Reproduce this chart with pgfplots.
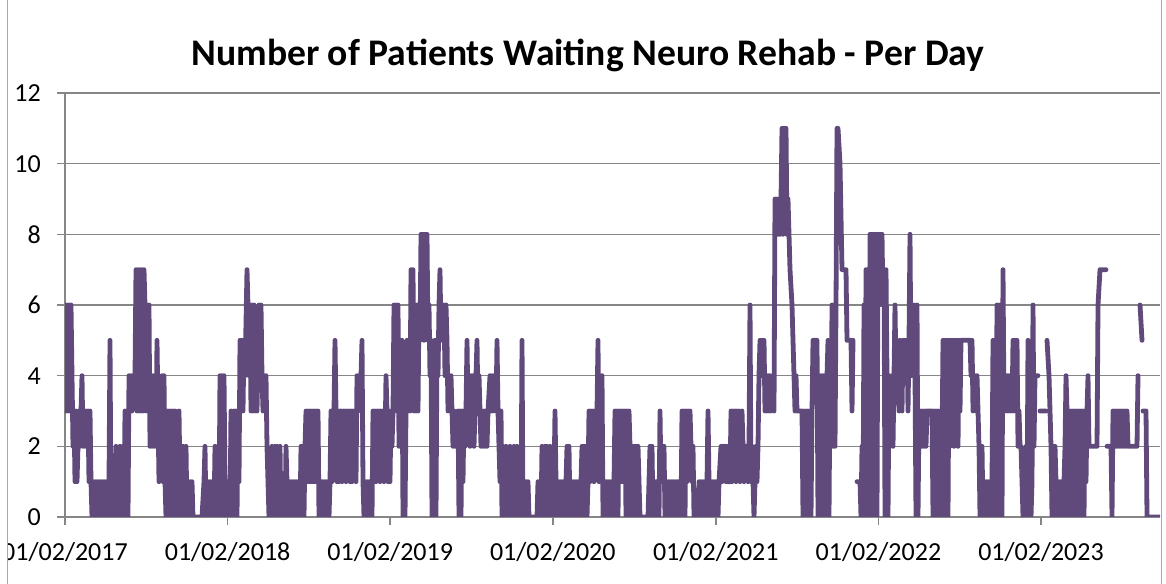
\documentclass[border=0pt]{standalone}
\usepackage{pgfplots}
\pgfplotsset{compat=1.18}
\usepackage{fontspec}
\setmainfont{Carlito}
\definecolor{lineP}{RGB}{96,74,123}
\definecolor{gridG}{RGB}{134,134,134}
\definecolor{borderG}{RGB}{170,170,170}
\begin{document}
\begin{tikzpicture}[x=1pt,y=1pt]
\useasboundingbox (0,0) rectangle (874.5,438);
\fill[white] (0,0) rectangle (874.5,438);
\begin{scope}
\clip (5.6,0) rectangle (874.5,438);
\begin{axis}[
  at={(48.75pt,50.25pt)}, anchor=south west,
  width=821.25pt, height=318pt, scale only axis,
  xmin=0, xmax=1095, ymin=0, ymax=12,
  axis x line=bottom, axis y line=left,
  axis line style={gridG, line width=1.1pt, -},
  ytick={0,2,4,6,8,10,12},
  xtick={0,162.6,325.2,487.8,650.8,813.4,976},
  xticklabels={01/02/2017,01/02/2018,01/02/2019,01/02/2020,01/02/2021,01/02/2022,01/02/2023},
  ymajorgrids, grid style={gridG, line width=1.1pt},
  tick align=outside, major tick length=6pt,
  tick style={gridG, line width=1.1pt},
  ticklabel style={font=\fontsize{19.5}{22}\selectfont},
  /pgf/number format/assume math mode=true,
  yticklabel style={anchor=east, inner sep=0pt, xshift=-12pt},
  xticklabel style={anchor=base, inner sep=0pt, yshift=-27pt},
  unbounded coords=jump,
  clip=true,
]
\addplot[lineP, line width=3.6pt, line join=round, line cap=round] coordinates {
(0,6)(1,3)(2,6)(3,3)(4,6)(5,3)(6,6)(7,4)(8,2)(9,3)(10,1)(11,3)(12,1)(13,2)(14,3)(15,2)(16,3)(17,4)(18,2)(19,3)(20,2)(21,3)(22,2)(23,3)(24,1)(25,3)(26,1)(27,0)(28,1)(29,0)(30,1)(31,0)(32,1)(33,0)(34,1)(35,0)(36,1)(37,0)(38,1)(39,0)(40,1)(41,0)(42,1)(43,0)(44,1)(45,5)(46,0)(47,1)(48,0)(49,1)(50,0)(51,2)(52,0)(53,1)(54,0)(55,2)(56,0)(57,1)(58,2)(59,0)(60,3)(61,1)(62,3)(63,0)(64,4)(65,3)(66,4)(67,3)(68,4)(70,4)(71,7)(72,3)(73,7)(74,3)(75,7)(76,3)(77,7)(78,3)(79,7)(80,6)(81,3)(82,6)(83,4)(84,6)(85,2)(86,4)(87,2)(88,4)(89,2)(90,3)(91,2)(92,5)(93,3)(94,1)(95,3)(96,2)(97,4)(98,1)(99,4)(100,1)
(101,0)(102,3)(103,0)(104,3)(105,0)(106,3)(107,1)(108,3)(109,0)(110,3)(111,0)(112,1)(113,0)(114,3)(115,1)(116,2)(117,0)(118,2)(119,1)(120,0)(121,2)(122,0)(123,1)(124,0)(125,1)(126,0)(127,1)(128,0)(137,0)(139,1)(140,2)(141,0)(142,1)(143,0)(144,1)(145,0)(146,1)(147,0)(148,1)(149,0)(150,2)(151,0)(152,1)(153,2)(154,0)(155,4)(156,1)(157,4)(158,0)(159,4)(160,1)(161,0)(162,1)(163,0)(164,1)(165,0)(166,3)(167,0)(168,1)(169,3)(170,1)(171,3)(172,0)(173,3)(174,1)(175,5)
(176,4)(177,5)(178,3)(179,5)(180,4)(182,7)(183,6)(184,4)(185,6)(186,3)(187,6)(188,3)(189,6)(190,3)(191,4)(192,3)(194,6)(195,4)(196,6)(197,4)(198,3)(199,4)(200,3)(201,4)(202,2)(203,1)(204,0)(205,1)(206,0)(207,2)(208,1)(209,0)(210,2)(211,0)(212,2)(213,1)(214,0)(215,2)(216,0)(217,1)(218,0)(219,1)(220,0)(221,2)(222,1)(223,0)(224,1)(225,0)(226,1)(227,0)(228,1)(229,0)(230,1)(231,0)(232,1)(233,0)(234,1)(235,0)(236,2)(237,1)(238,2)(239,0)(240,2)(241,3)(242,1)(243,3)(244,1)(245,3)(246,1)(247,3)(248,1)(249,3)(250,1)(251,3)(252,1)(253,3)(254,0)(255,1)(256,0)(257,1)(258,0)(259,1)(260,0)(261,1)(262,0)(263,1)(264,0)(265,1)(266,3)(267,1)(268,3)(269,3)(270,5)(271,3)(272,1)(273,3)(274,1)(275,3)
(276,3)(277,1)(278,3)(279,2)(280,3)(281,1)(282,3)(283,2)(284,3)(285,1)(286,3)(287,1)(288,3)(289,2)(290,3)(291,1)(292,4)(293,3)(294,4)(296,4)(297,5)(298,1)(299,0)(300,1)(301,0)(302,1)(303,0)(304,1)(305,0)(306,1)(307,0)(308,3)(309,2)(310,3)(311,1)(312,3)(313,2)(314,3)(315,1)(316,3)(317,2)(318,3)(319,1)(320,2)(321,4)(322,3)(323,1)(324,3)(325,1)(326,3)(327,2)(328,3)(329,6)(330,4)(331,6)(332,3)(333,6)(334,2)(335,5)(336,2)(337,5)(338,0)(339,2)(340,0)(341,3)(342,5)(343,3)(344,5)(345,3)(346,7)(347,4)(348,7)(349,3)(350,6)(351,3)(352,6)(353,3)(354,6)(355,5)(356,8)(357,6)(358,8)(359,5)(360,8)(361,6)(362,8)(363,5)
(364,6)(365,4)(366,5)(367,0)(368,4)(369,0)(370,5)(371,0)(372,5)(373,4)(374,6)(375,7)(376,5)(377,6)(378,5)(379,6)(380,4)(381,6)(382,5)(383,3)(384,4)(385,3)(386,4)(387,3)(388,2)(389,3)(390,2)(392,2)(393,3)(394,0)(395,3)(396,0)(397,3)(398,1)(399,3)(400,2)(401,3)(402,5)(403,3)(404,4)(405,2)(406,4)(407,3)(408,4)(409,2)(410,3)(411,4)(412,5)(413,3)(414,4)(415,3)(416,2)(417,3)(418,2)(419,3)(420,2)(421,3)(422,2)(423,3)(425,4)(426,3)(427,4)(428,3)(429,4)(431,3)(432,5)(433,3)(434,2)(435,1)(436,3)(437,0)(438,2)(439,0)(440,1)(441,2)(442,0)(443,1)(444,0)(445,2)(446,1)(447,0)(448,1)(449,2)(450,1)(451,0)(452,2)(453,1)(454,0)(455,1)(456,0)(457,5)(458,0)(459,1)(460,0)(461,1)(462,0)(463,1)(464,0)(472,0)(473,1)(474,0)(475,1)
(476,0)(477,2)(478,1)(479,0)(480,2)(481,1)(482,2)(483,0)(484,1)(485,2)(486,0)(487,1)(488,0)(489,1)(490,3)(491,1)(492,0)(493,1)(494,0)(495,1)(496,0)(497,1)(498,0)(499,1)(500,0)(501,1)(502,2)(503,1)(504,2)(505,0)(506,1)(507,0)(508,1)(509,0)(510,1)(511,0)(512,1)(513,0)(514,1)(515,0)(516,1)(517,2)(518,0)(519,2)(520,1)(521,2)(522,0)(523,1)(524,3)(525,1)(526,3)(527,2)(528,3)(529,1)(530,3)(531,2)(532,3)(533,5)(534,1)(535,4)(536,1)(537,4)(538,0)(539,1)(540,0)(541,1)(542,0)(543,1)(544,0)(545,1)(546,0)(547,1)(548,0)(549,1)(550,3)(551,1)(552,3)(553,0)(554,3)(555,1)(556,3)(557,1)(558,3)(559,1)(560,3)(561,0)(562,3)(563,0)(564,3)(565,2)(566,0)(567,2)(568,1)(569,2)(570,0)(571,2)(572,1)(573,2)(574,1)(575,0)(583,0)
(584,1)(585,2)(586,1)(587,2)(588,0)(589,1)(590,0)(591,1)(592,0)(593,1)(594,0)(595,3)(596,1)(597,2)(598,1)(599,2)(600,0)(601,1)(602,0)(603,1)(604,0)(605,1)(606,0)(607,1)(608,0)(609,1)(610,0)(611,1)(612,0)(613,1)(614,0)(615,1)(616,0)(617,3)(618,1)(619,3)(620,0)(621,3)(622,1)(623,3)(624,2)(625,3)(626,2)(627,1)(628,2)(629,0)(633,0)(634,1)(635,0)(636,1)(637,0)(638,1)(639,0)(640,1)(641,0)(642,1)(643,3)(644,1)(645,0)(646,1)(647,0)(648,1)(649,0)(650,1)(651,0)(652,1)(653,0)(654,1)(656,2)(657,1)(658,2)(660,2)(661,1)(662,2)(663,1)(665,1)(666,3)(667,1)(668,3)(669,2)(670,3)(671,1)(672,3)(673,2)(674,3)(675,1)(676,2)(677,3)(678,2)(679,1)(680,2)(682,2)(683,1)(684,2)(685,6)(686,1)(687,2)(688,1)(689,0)(690,1)(691,2)(692,1)(693,2)(694,4)(695,5)(696,4)(697,5)(698,4)(699,5)(700,3)(701,4)(702,3)(703,4)(704,3)(705,4)(706,3)(708,4)(709,3)
(710,9)(711,8)(712,9)(713,8)(714,9)(715,8)(716,9)(717,11)(718,8)(719,11)(720,9)(721,11)(722,8)(723,9)(724,8)(725,7)(727,6)(728,5)(729,4)(730,3)(731,4)(732,3)(737,3)(738,0)(739,3)(740,0)(741,3)(742,0)(743,3)(744,0)(745,3)(746,0)(747,3)(748,5)(752,5)(753,0)(754,4)(755,0)(756,4)(757,0)(758,4)(759,0)(760,4)(761,0)(762,4)(763,5)(764,0)(765,4)(766,2)(767,6)(768,2)(769,6)(770,2)(771,6)(772,11)(773,11)(775,10)(777,7)(781,7)(782,5)(786,5)(787,3)(788,5)(789,nan)
(792,1)(795,1)(796,0)(797,2)(798,0)(799,6)(800,0)(801,7)(802,0)(803,7)(804,0)(805,8)(806,0)(807,8)(808,6)(809,8)(810,0)(811,8)(812,0)(813,8)(814,6)(815,8)(816,7)(817,8)(818,6)(819,7)(820,0)(821,7)(822,4)(823,0)(824,4)(825,2)(826,3)(827,4)(828,2)(829,4)(830,6)(831,4)(832,5)(833,4)(834,3)(835,5)(836,4)(837,3)(838,5)(839,4)(840,5)(841,4)(842,5)(843,3)(844,5)(845,8)(846,4)(847,6)(848,4)(849,6)(850,4)(851,0)(852,6)(853,0)(854,3)(855,2)(856,3)(857,2)(858,3)(859,2)(860,3)(861,2)(862,3)(867,3)(868,0)(869,3)(870,0)(871,3)(872,0)(873,3)(874,0)(875,1)(876,0)(877,2)(878,5)(879,0)(880,5)(881,2)(882,5)(883,0)(884,5)(885,2)(886,5)(887,3)(888,5)(889,2)(890,5)(891,3)(892,5)(893,2)(894,5)(895,3)(896,5)(905,5)(906,4)(907,5)(908,3)(909,4)(910,4)(911,3)(912,4)(913,3)(914,2)(915,0)(916,1)(917,2)(918,0)(919,1)(920,0)(921,1)(922,0)(923,1)(924,0)(925,1)(926,0)(927,1)
(928,5)(929,0)(930,5)(931,1)(932,6)(933,0)(934,6)(935,0)(936,5)(937,0)(938,7)(939,3)(940,4)(941,3)(942,4)(943,3)(944,4)(945,3)(946,4)(947,3)(948,5)(949,3)(950,5)(951,3)(952,5)(953,2)(954,3)(955,2)(956,2)(957,1)(958,0)(959,1)(960,0)(961,2)(962,0)(963,5)(964,0)(965,1)(966,0)(967,1)(968,6)(969,2)(970,4)(973,4)(974,nan)(975,3)(981,3)(981.5,nan)(982,5)(984,4)(985,3)(986,2)(987,0)(988,2)(989,0)(990,2)(991,1)(992,0)(993,1)(994,0)(995,1)(996,0)(997,1)(998,0)(999,1)(1000,2)(1001,4)(1002,3)(1003,0)(1004,3)(1005,0)(1006,3)(1007,0)(1008,3)(1009,0)(1010,3)(1011,0)(1012,3)(1013,0)(1014,3)(1015,0)(1016,3)(1017,0)(1018,3)(1019,0)(1020,3)(1021,1)(1022,3)(1023,4)(1024,2)(1032,2)(1033,6)(1035,7)(1041,7)(1041.5,nan)(1042,2)(1046,2)(1047,0)(1048,3)(1049,2)(1050,3)(1051,2)(1052,3)(1053,2)(1054,3)(1055,2)(1056,3)(1057,2)(1058,3)(1059,2)(1060,3)(1061,2)(1062,3)(1063,2)(1072,2)(1073,4)(1074,nan)(1075,6)(1077,5)(1077.5,nan)(1078,3)(1081,3)(1082,0)(1095,0)
};
\end{axis}
\end{scope}
\draw[borderG, line width=0.9pt] (5.6,0) -- (5.6,438);
\draw[borderG, line width=1.2pt] (871,0) -- (871,438);
\node[font=\bfseries\fontsize{28.2}{32}\selectfont, anchor=base] at (441,388.5) {Number of Patients Waiting Neuro Rehab - Per Day};
\end{tikzpicture}
\end{document}
